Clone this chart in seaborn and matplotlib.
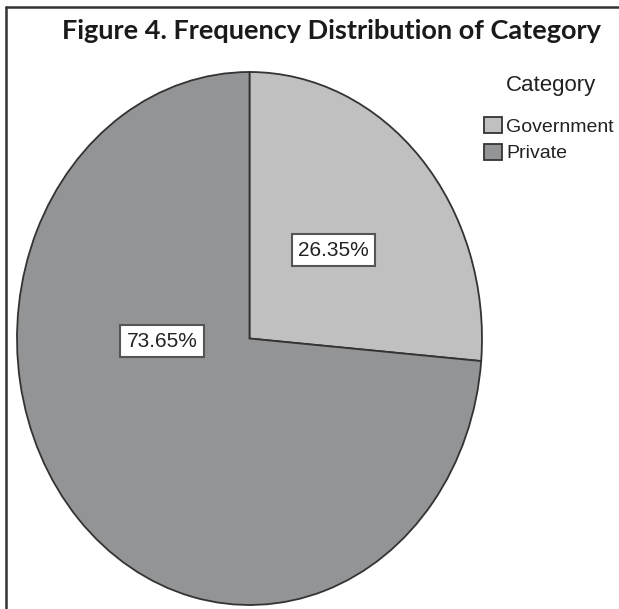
import matplotlib
matplotlib.use("Agg")
import matplotlib.pyplot as plt
import seaborn as sns
from matplotlib.lines import Line2D
from matplotlib.patches import Patch

categories = ["Government", "Private"]
percentages = [26.35, 73.65]
colors = ["#bfc0bf", "#939495"]
legend_title = "Category"
title = "Figure 4. Frequency Distribution of Category"

sns.set_theme(style="white")
plt.rcParams['font.family'] = ['Liberation Sans', 'DejaVu Sans']

W, H = 619, 609
fig = plt.figure(figsize=(W / 100, H / 100), dpi=100)
fig.patch.set_facecolor("white")

# pie axes (ellipse: stretched vertically)
ax = fig.add_axes([17 / W, 4 / H, 465 / W, 533 / H])
wedges, texts, autotexts = ax.pie(
    percentages, colors=colors, startangle=90, counterclock=False,
    autopct=lambda p: f"{p:.2f}%", pctdistance=0.49,
    wedgeprops=dict(edgecolor="#333333", linewidth=1.3),
    textprops=dict(fontsize=15, color="#222222"),
)
ax.set_aspect("auto")
ax.set_xlim(-1.0, 1.0)
ax.set_ylim(-1.0, 1.0)
ax.axis("off")

# SPSS-style label placement for the larger slice
autotexts[1].set_position((-0.376, -0.01))
for t in autotexts:
    t.set_bbox(dict(boxstyle="square,pad=0.3", facecolor="white",
                    edgecolor="#555555", linewidth=1.5))

# title
fig.text(331 / W, 1 - 31 / H, title, ha="center", va="center",
         fontsize=19.5, fontweight="bold", color="#1a1a1a",
         family=["Lato", "DejaVu Sans"])

# legend
fig.text(551 / W, 1 - 86 / H, legend_title, ha="center", va="center",
         fontsize=16, color="#222222")
handles = [Patch(facecolor=c, edgecolor="#333333", linewidth=1.3) for c in colors]
leg = fig.legend(handles, categories,
                 loc="upper left", bbox_to_anchor=(484 / W, 1 - 117 / H),
                 frameon=False, fontsize=14,
                 handlelength=0.9, handleheight=0.9, handletextpad=0.25,
                 labelspacing=0.4, borderaxespad=0, borderpad=0)
for t in leg.get_texts():
    t.set_color("#222222")

# frame lines (left and top)
fig.add_artist(Line2D([6 / W, 6 / W], [0, 1 - 7 / H], color="#333333", linewidth=1.8,
                      transform=fig.transFigure))
fig.add_artist(Line2D([6 / W, 1], [1 - 7 / H, 1 - 7 / H], color="#333333", linewidth=1.8,
                      transform=fig.transFigure))

fig.savefig("out.png", dpi=100)
